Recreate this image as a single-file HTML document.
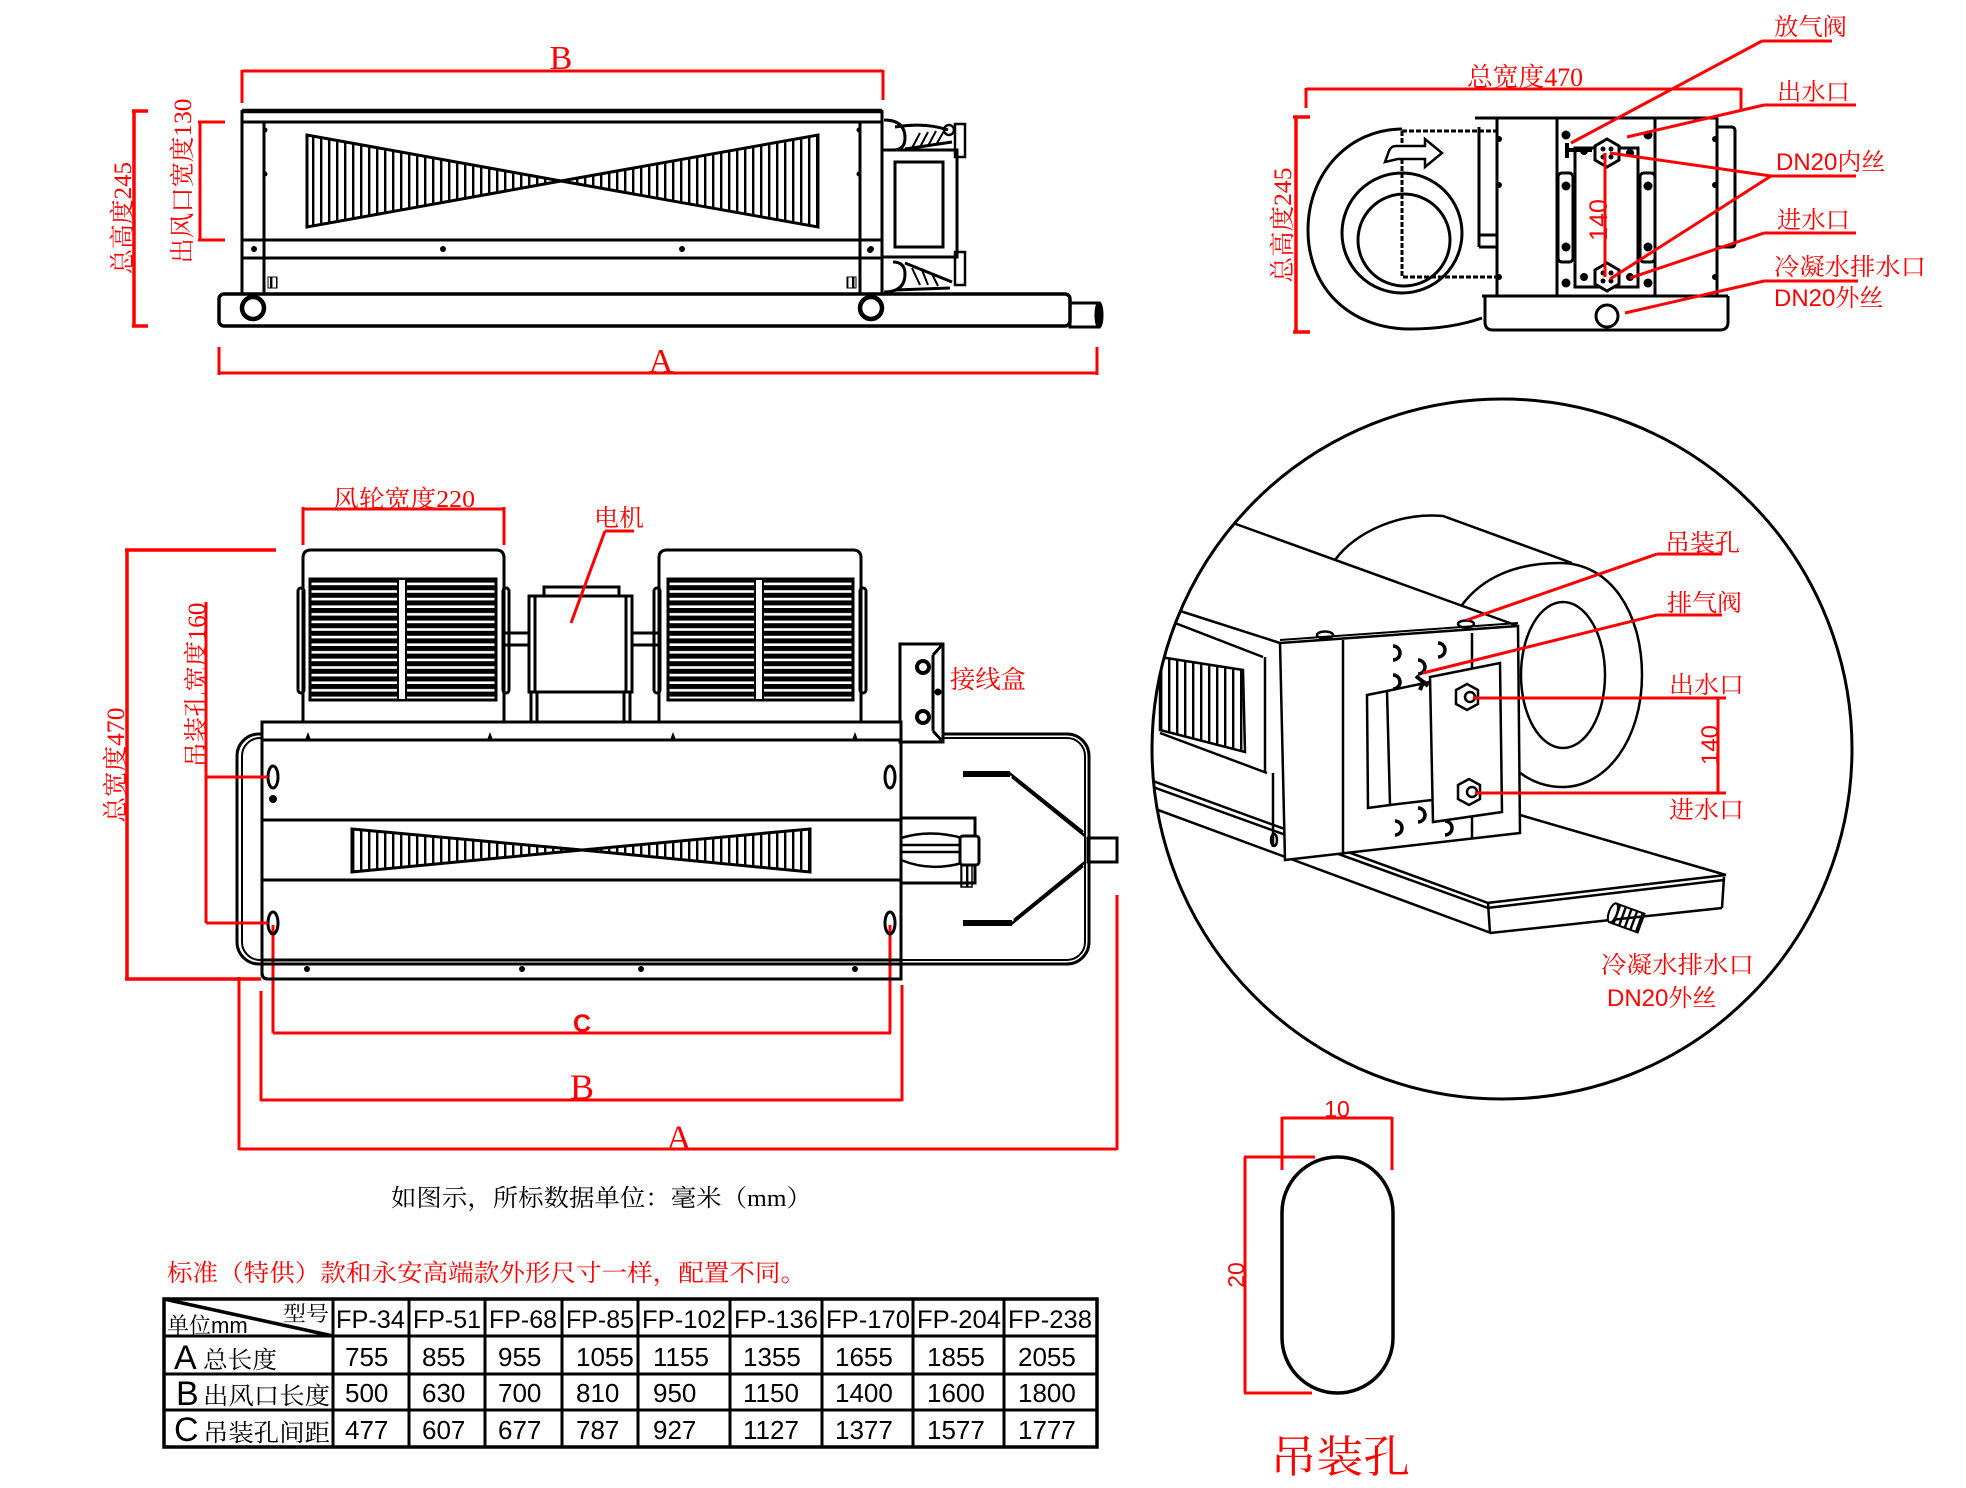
<!DOCTYPE html>
<html><head><meta charset="utf-8"><style>
html,body{margin:0;padding:0;background:#fff}
svg{display:block}
.s{font-family:"Liberation Serif","Noto Serif CJK SC",serif}
.a{font-family:"Liberation Sans","Noto Sans CJK SC",sans-serif}
</style></head><body>
<svg width="1966" height="1488" viewBox="0 0 1966 1488" xmlns="http://www.w3.org/2000/svg">
<defs>
<pattern id="vst" width="8" height="10" patternUnits="userSpaceOnUse"><rect x="0" y="0" width="2.4" height="10" fill="#000"/></pattern>
<pattern id="vst2" width="6" height="10" patternUnits="userSpaceOnUse"><rect x="0" y="0" width="2.4" height="10" fill="#000"/></pattern>
<pattern id="hbars" width="10" height="7.6" patternUnits="userSpaceOnUse"><rect width="10" height="5" fill="#000"/></pattern>
<clipPath id="cc"><circle cx="1502" cy="749" r="349"/></clipPath>
</defs>
<rect width="1966" height="1488" fill="#fff"/>

<!-- ================= TOP-LEFT FRONT VIEW ================= -->
<g stroke="#000" stroke-width="3" fill="none">
  <rect x="219" y="294" width="851" height="32" rx="5" stroke-width="3.5"/>
  <rect x="1070" y="303" width="29" height="24"/>
  <ellipse cx="1099" cy="315" rx="3" ry="12"/>
  <line x1="242" y1="111" x2="882" y2="111" stroke-width="4.5"/>
  <line x1="242" y1="122" x2="882" y2="122"/>
  <line x1="242" y1="110" x2="242" y2="294"/>
  <line x1="882" y1="110" x2="882" y2="294"/>
  <line x1="264" y1="122" x2="264" y2="294"/>
  <line x1="860" y1="122" x2="860" y2="294"/>
  <line x1="242" y1="240" x2="882" y2="240"/>
  <line x1="242" y1="258" x2="882" y2="258"/>
  <circle cx="253" cy="308" r="11" stroke-width="4.5" fill="#fff"/>
  <circle cx="871" cy="308" r="11" stroke-width="4.5" fill="#fff"/>
  <polygon points="307,135 307,227 561,181" fill="url(#vst)"/>
  <polygon points="818,135 818,227 561,181" fill="url(#vst)"/>
  <!-- right fittings -->
  <rect x="882" y="150" width="75" height="107"/>
  <rect x="895" y="162" width="48" height="85"/>
  <rect x="955" y="124" width="10" height="33" stroke-width="2.5"/>
  <rect x="955" y="252" width="10" height="33" stroke-width="2.5"/>
  <path d="M884,120 Q905,120 905,138 Q905,150 893,150"/>
  <path d="M895,127 Q925,122 948,130 M905,149 L952,142"/>
  <path d="M912,148 L920,133 M920,147 L928,132 M928,146 L936,131 M936,145 L944,131" stroke-width="2"/>
  <circle cx="949" cy="130" r="5" stroke-width="2.5"/>
  <path d="M884,292 Q905,292 905,274 Q905,262 893,262"/>
  <path d="M905,263 L952,282 M895,290 L950,288"/>
  <path d="M912,268 L920,285 M922,270 L928,285 M932,274 L938,286" stroke-width="2"/>
</g>
<g fill="#000">
  <circle cx="254" cy="249" r="3"/><circle cx="443" cy="249" r="3"/><circle cx="682" cy="249" r="3"/><circle cx="871" cy="249" r="3"/>
  <circle cx="265" cy="130" r="2.5"/><circle cx="265" cy="174" r="2.5"/><circle cx="859" cy="130" r="2.5"/><circle cx="859" cy="174" r="2.5"/>
  <circle cx="870" cy="250" r="3"/>
</g>
<rect x="268" y="277" width="9" height="11" fill="url(#vst2)" stroke="#000" stroke-width="1"/>
<rect x="847" y="277" width="9" height="11" fill="url(#vst2)" stroke="#000" stroke-width="1"/>

<!-- top-left dims -->
<g stroke="#f00" stroke-width="3" fill="none">
  <path d="M242,71 H883 M242,70 V103 M883,70 V100"/>
  <path d="M219,373 H1097 M219,347 V375 M1097,347 V375"/>
  <path d="M134,111 V326 M132,111 H148 M132,326 H148" stroke-width="3.5"/>
  <path d="M200,122 V240 M198,122 H225 M198,240 H225"/>
</g>
<g fill="#f00" class="s">
  <text x="561" y="69" font-size="34" text-anchor="middle">B</text>
  <text x="661" y="372" font-size="34" text-anchor="middle">A</text>
  <text transform="translate(122,218) rotate(-90)" y="9" font-size="25" text-anchor="middle" textLength="112" lengthAdjust="spacingAndGlyphs">总高度245</text>
  <text transform="translate(182,181) rotate(-90)" y="9" font-size="25" text-anchor="middle" textLength="165" lengthAdjust="spacingAndGlyphs">出风口宽度130</text>
</g>

<!-- ================= TOP-RIGHT SIDE VIEW ================= -->
<g stroke="#000" stroke-width="3" fill="none">
  <path d="M1402,129 C1350,129 1308,172 1308,230 C1308,290 1352,329 1410,329 C1440,329 1462,325 1482,318"/>
  <circle cx="1402" cy="233" r="60"/>
  <circle cx="1404" cy="240" r="46"/>
  <path d="M1402,131 H1497 M1402,131 V277 H1497" stroke-dasharray="5,2"/>
  <path d="M1385,162 L1389,151 Q1391,146 1396,146 L1425,146 L1425,139 L1442,153 L1425,167 L1425,159 L1398,159 Z" fill="#fff" stroke-width="2.5"/>
  <path d="M1475,118 H1718"/>
  <path d="M1479,127 V247 M1479,235 H1497 M1479,247 H1497"/>
  <path d="M1497,118 V296 M1557,118 V296 M1655,118 V296 M1717,118 V296"/>
  <path d="M1717,127 H1731 Q1735,127 1735,131 V243 Q1735,247 1731,247 H1717"/>
  <path d="M1482,296 H1728"/>
  <path d="M1485,296 V322 Q1485,330 1493,330 H1720 Q1728,330 1728,322 V296"/>
  <circle cx="1607" cy="316" r="11"/>
  <rect x="1558" y="173" width="15" height="89" rx="4"/>
  <rect x="1640" y="173" width="15" height="89" rx="4"/>
  <rect x="1575" y="148" width="63" height="139"/>
  <polygon points="1607,139 1619,146 1619,160 1607,167 1595,160 1595,146" fill="#fff"/>
  <polygon points="1607,263 1619,270 1619,284 1607,291 1595,284 1595,270" fill="#fff"/>
  <path d="M1567,143 V158 M1567,150 H1592" stroke-width="4"/>
</g>
<g fill="#000">
  <circle cx="1566" cy="135" r="4.5"/><circle cx="1648" cy="135" r="4.5"/>
  <circle cx="1566" cy="186" r="4.5"/><circle cx="1648" cy="186" r="4.5"/>
  <circle cx="1566" cy="247" r="4.5"/><circle cx="1648" cy="247" r="4.5"/>
  <circle cx="1566" cy="283" r="4.5"/><circle cx="1648" cy="283" r="4.5"/>
  <circle cx="1499" cy="139" r="3"/><circle cx="1499" cy="185" r="3"/><circle cx="1499" cy="277" r="3"/>
  <circle cx="1715" cy="139" r="3"/><circle cx="1715" cy="185" r="3"/><circle cx="1715" cy="277" r="3"/>
  <circle cx="1584" cy="151" r="4"/><circle cx="1630" cy="153" r="4"/>
  <circle cx="1584" cy="277" r="4"/><circle cx="1630" cy="277" r="4"/>
  <circle cx="1603" cy="149" r="2.5"/><circle cx="1611" cy="149" r="2.5"/><circle cx="1603" cy="157" r="2.5"/><circle cx="1611" cy="157" r="2.5"/>
  <circle cx="1603" cy="273" r="2.5"/><circle cx="1611" cy="273" r="2.5"/><circle cx="1603" cy="281" r="2.5"/><circle cx="1611" cy="281" r="2.5"/>
</g>
<!-- top-right red -->
<g stroke="#f00" stroke-width="3" fill="none">
  <path d="M1306,89 H1741 M1306,88 V108 M1741,88 V110"/>
  <path d="M1296,117 V332 M1293,117 H1310 M1293,332 H1310" stroke-width="3.5"/>
  <path d="M1605,153 V277"/>
  <path d="M1762,41 H1832 M1762,41 L1571,143"/>
  <path d="M1764,105 H1856 M1764,105 L1627,137"/>
  <path d="M1771,176 H1856 M1771,176 L1610,153 M1771,176 L1610,279"/>
  <path d="M1764,233 H1856 M1764,233 L1630,278"/>
  <path d="M1764,281 H1858 M1764,281 L1625,313"/>
</g>
<g fill="#f00">
  <text class="s" x="1525" y="86" font-size="26" text-anchor="middle" textLength="116" lengthAdjust="spacingAndGlyphs">总宽度470</text>
  <text class="s" transform="translate(1282,225) rotate(-90)" y="9" font-size="25" text-anchor="middle" textLength="115" lengthAdjust="spacingAndGlyphs">总高度245</text>
  <text class="a" transform="translate(1598,220) rotate(-90)" y="9" font-size="25" text-anchor="middle">140</text>
  <text class="s" x="1774" y="35" font-size="24" textLength="73" lengthAdjust="spacingAndGlyphs">放气阀</text>
  <text class="s" x="1777" y="100" font-size="24" textLength="73" lengthAdjust="spacingAndGlyphs">出水口</text>
  <text x="1776" y="170" font-size="24"><tspan class="a">DN20</tspan><tspan class="s">内丝</tspan></text>
  <text class="s" x="1777" y="228" font-size="24" textLength="73" lengthAdjust="spacingAndGlyphs">进水口</text>
  <text class="s" x="1774" y="275" font-size="24" textLength="152" lengthAdjust="spacingAndGlyphs">冷凝水排水口</text>
  <text x="1774" y="306" font-size="24"><tspan class="a">DN20</tspan><tspan class="s">外丝</tspan></text>
</g>

<!-- ================= BOTTOM-LEFT TOP VIEW ================= -->
<!-- red ticks under body -->
<g stroke="#f00" stroke-width="3" fill="none">
  <path d="M273,925 V1033 M890,925 V1033"/>
</g>
<g stroke="#000" stroke-width="3" fill="none">
  <!-- fans -->
  <path d="M303,722 V558 Q303,550 311,550 H496 Q504,550 504,558 V722" fill="#fff"/>
  <path d="M659,722 V558 Q659,550 667,550 H853 Q861,550 861,558 V722" fill="#fff"/>
  <rect x="298" y="588" width="6" height="105" rx="3"/>
  <rect x="503" y="588" width="6" height="105" rx="3"/>
  <rect x="654" y="588" width="6" height="105" rx="3"/>
  <rect x="860" y="588" width="6" height="105" rx="3"/>
  <rect x="310" y="579" width="186" height="121" fill="url(#hbars)"/>
  <rect x="668" y="579" width="185" height="121" fill="url(#hbars)"/>
  <rect x="398" y="579" width="8" height="121" fill="#fff" stroke-width="2"/>
  <rect x="755" y="579" width="8" height="121" fill="#fff" stroke-width="2"/>
  <!-- motor -->
  <path d="M504,633 H529 M504,645 H529 M632,633 H659 M632,645 H659"/>
  <rect x="544" y="587" width="75" height="9"/>
  <rect x="529" y="596" width="103" height="96" fill="#fff"/>
  <path d="M535,596 V692 M626,596 V692 M531,692 V722 M537,692 V722 M624,692 V722 M630,692 V722"/>
  <!-- outer tray rect -->
  <rect x="237" y="734" width="852" height="230" rx="22"/>
  <rect x="242" y="738" width="843" height="222" rx="18" stroke-width="2"/>
  <!-- junction box -->
  <rect x="900" y="644" width="43" height="98" fill="#fff"/>
  <path d="M933,655 V731 M933,655 L943,644 M933,731 L943,742"/>
  <circle cx="923" cy="667" r="6" stroke-width="4"/>
  <circle cx="923" cy="717" r="6" stroke-width="4"/>
  <!-- body -->
  <rect x="262" y="722" width="639" height="18" fill="#fff"/>
  <path d="M262,740 H901 V979 H268 Q262,979 262,973 Z" fill="none"/>
  <path d="M262,740 V973 Q262,979 268,979 H901 V740 Z" fill="none"/>
  <path d="M262,820 H901 M262,880 H901 M262,960 H901"/>
  <polygon points="352,829 352,872 582,850" fill="url(#vst)"/>
  <polygon points="810,829 810,872 582,850" fill="url(#vst)"/>
  <ellipse cx="273" cy="777" rx="5" ry="11"/>
  <ellipse cx="273" cy="923" rx="5" ry="11"/>
  <ellipse cx="890" cy="777" rx="5" ry="11"/>
  <ellipse cx="890" cy="923" rx="5" ry="11"/>
  <!-- right valve area -->
  <path d="M901,818 H975 V883 H901"/>
  <path d="M901,838 Q930,829 962,838 M901,845 H962 M901,852 H962 M901,860 Q930,872 962,863" stroke-width="2.5"/>
  <rect x="960" y="836" width="19" height="29" rx="3" fill="#fff"/>
  <rect x="961" y="865" width="11" height="22" fill="url(#vst2)" stroke-width="1.5"/>
  <path d="M963,774 H1010" stroke-width="6"/>
  <path d="M963,923 H1012" stroke-width="6"/>
  <path d="M1008,772 L1083,832 M1012,777 L1085,836" stroke-width="2.5"/>
  <path d="M1010,925 L1083,866 M1014,920 L1085,862" stroke-width="2.5"/>
  <rect x="1088" y="838" width="29" height="24"/>
</g>
<g fill="#000">
  <polygon points="305,740 311,740 308,732"/><polygon points="487,740 493,740 490,732"/>
  <polygon points="670,740 676,740 673,732"/><polygon points="852,740 858,740 855,732"/>
  <circle cx="307" cy="969" r="3"/><circle cx="522" cy="969" r="3"/><circle cx="641" cy="969" r="3"/><circle cx="855" cy="969" r="3"/>
  <circle cx="273" cy="799" r="4"/>
  <circle cx="938" cy="692" r="3.5"/>
</g>
<!-- bottom-left red dims -->
<g stroke="#f00" stroke-width="3" fill="none">
  <path d="M303,509 H504 M303,507 V545 M504,507 V545"/>
  <path d="M605,531 H634 M605,531 L571,623"/>
  <path d="M127,550 V979 M125,550 H276 M125,979 H261" stroke-width="3.5"/>
  <path d="M206,602 V923 M206,777 H268 M206,923 H268"/>
  <path d="M273,1033 H891"/>
  <path d="M261,991 V1101 M902,985 V1101 M261,1100 H902"/>
  <path d="M239,977 V1150 M1117,895 V1150 M239,1149 H1117"/>
</g>
<g fill="#f00">
  <text class="s" x="333" y="507" font-size="24" textLength="142" lengthAdjust="spacingAndGlyphs">风轮宽度220</text>
  <text class="s" x="594" y="526" font-size="24" textLength="50" lengthAdjust="spacingAndGlyphs">电机</text>
  <text class="s" x="950" y="688" font-size="25" textLength="76" lengthAdjust="spacingAndGlyphs">接线盒</text>
  <text class="s" transform="translate(115,765) rotate(-90)" y="9" font-size="25" text-anchor="middle" textLength="115" lengthAdjust="spacingAndGlyphs">总宽度470</text>
  <text class="s" transform="translate(196,685) rotate(-90)" y="9" font-size="25" text-anchor="middle" textLength="165" lengthAdjust="spacingAndGlyphs">吊装孔宽度160</text>
  <text class="a" x="582" y="1032" font-size="25" font-weight="bold" text-anchor="middle">C</text>
  <text class="s" x="582" y="1099" font-size="36" text-anchor="middle">B</text>
  <text class="s" x="679" y="1150" font-size="36" text-anchor="middle">A</text>
</g>

<!-- ================= CIRCLE DETAIL ================= -->
<g clip-path="url(#cc)" stroke="#000" stroke-width="2.5" fill="none">
  <!-- scroll -->
  <path d="M1335,560 C1355,532 1400,512 1443,516 L1572,563"/>
  <path d="M1462,605 C1482,578 1515,563 1560,563 C1610,563 1642,612 1642,675 C1642,740 1606,787 1563,787 C1540,787 1522,777 1508,762"/>
  <ellipse cx="1563" cy="675" rx="42" ry="73"/>
  <!-- long body edges -->
  <path d="M1233,523 L1518,626"/>
  <path d="M1177,610 L1280,643 M1175,623 L1263,657"/>
  <polygon points="1160,657 1243,670 1245,752 1160,730" fill="url(#vst)"/>
  <path d="M1265,657 V773 M1160,733 L1267,773 M1273,773 V847"/>
  <ellipse cx="1274" cy="840" rx="3" ry="6"/>
  <!-- tray -->
  <path d="M1150,780 L1488,903 M1150,786 L1488,908" stroke-width="2.5"/>
  <path d="M1150,807 L1491,933"/>
  <path d="M1520,815 L1726,875"/>
  <path d="M1487,903 L1726,875 M1487,908 L1724,880" stroke-width="2.5"/>
  <path d="M1490,933 L1722,908 M1724,877 L1722,908 M1488,903 L1490,933"/>
  <!-- front face -->
  <polygon points="1280,643 1518,626 1520,833 1285,860" fill="#fff"/>
  <path d="M1280,640 L1518,623" stroke-width="2"/>
  <path d="M1343,640 V852 M1472,633 V838"/>
  <polygon points="1430,677 1500,663 1502,812 1433,822" fill="#fff"/>
  <path d="M1367,695 L1387,691 L1390,805 L1368,808 Z"/>
  <path d="M1387,691 L1430,682 M1390,805 L1432,800"/>
  <ellipse cx="1325" cy="635" rx="8" ry="3.5"/>
  <ellipse cx="1466" cy="624" rx="8" ry="3.5"/>
  <polygon points="1467,684 1478,690 1478,704 1467,710 1456,704 1456,690" fill="#fff"/>
  <polygon points="1469,779 1480,785 1480,799 1469,805 1458,799 1458,785" fill="#fff"/>
  <circle cx="1470" cy="697" r="5"/>
  <circle cx="1472" cy="792" r="5"/>
  <path d="M1393,646 A7,7 0 1 1 1393,660 M1438,643 A7,7 0 1 1 1438,657 M1418,660 A7,7 0 1 1 1418,674 M1393,675 A7,7 0 1 1 1393,689 M1395,821 A7,7 0 1 1 1395,835 M1445,821 A7,7 0 1 1 1445,835 M1418,808 A7,7 0 1 1 1418,822" stroke-width="3.5"/>
  <path d="M1416,676 L1428,686 M1420,690 L1424,680" stroke-width="4"/>
  <!-- drain stub -->
  <g transform="translate(1627,918) rotate(20)">
    <rect x="-15" y="-10" width="30" height="20" fill="url(#vst2)" stroke-width="2"/>
    <ellipse cx="-15" cy="0" rx="4" ry="10" fill="#fff" stroke-width="2"/>
  </g>
</g>
<circle cx="1502" cy="749" r="350" fill="none" stroke="#000" stroke-width="3"/>
<g stroke="#f00" stroke-width="3" fill="none">
  <path d="M1657,554 H1722 M1657,554 L1467,620"/>
  <path d="M1657,615 H1722 M1657,615 L1423,673"/>
  <path d="M1473,698 H1726 M1475,793 H1726 M1718,698 V793"/>
</g>
<g fill="#f00" class="s">
  <text x="1665" y="551" font-size="24" textLength="75" lengthAdjust="spacingAndGlyphs">吊装孔</text>
  <text x="1667" y="611" font-size="24" textLength="75" lengthAdjust="spacingAndGlyphs">排气阀</text>
  <text x="1669" y="693" font-size="24" textLength="75" lengthAdjust="spacingAndGlyphs">出水口</text>
  <text x="1669" y="818" font-size="24" textLength="75" lengthAdjust="spacingAndGlyphs">进水口</text>
  <text class="a" transform="translate(1709,745) rotate(-90)" y="9" font-size="24" text-anchor="middle">140</text>
  <text x="1601" y="973" font-size="24" textLength="153" lengthAdjust="spacingAndGlyphs">冷凝水排水口</text>
  <text x="1607" y="1006" font-size="24"><tspan class="a">DN20</tspan><tspan class="s">外丝</tspan></text>
</g>

<!-- ================= HANGING HOLE ================= -->
<path d="M1282,1212.5 A55.5,55.5 0 0 1 1393,1212.5 V1337.5 A55.5,55.5 0 0 1 1282,1337.5 Z" fill="none" stroke="#000" stroke-width="3.5"/>
<g stroke="#f00" stroke-width="3" fill="none">
  <path d="M1282,1118 H1392 M1282,1117 V1170 M1392,1117 V1170"/>
  <path d="M1245,1157 V1393 M1244,1157 H1315 M1244,1393 H1312"/>
</g>
<g fill="#f00">
  <text class="a" x="1337" y="1117" font-size="23" text-anchor="middle">10</text>
  <text class="a" transform="translate(1236,1275) rotate(-90)" y="8" font-size="23" text-anchor="middle">20</text>
  <text class="s" x="1270" y="1472" font-size="44" textLength="140" lengthAdjust="spacingAndGlyphs">吊装孔</text>
</g>

<!-- ================= NOTES ================= -->
<text class="s" x="391" y="1206" font-size="24" fill="#000" textLength="421" lengthAdjust="spacingAndGlyphs">如图示，所标数据单位：毫米（mm）</text>
<text class="s" x="167" y="1281" font-size="24" fill="#f00" textLength="639" lengthAdjust="spacingAndGlyphs">标准（特供）款和永安高端款外形尺寸一样，配置不同。</text>

<!-- ================= TABLE ================= -->
<g stroke="#000" stroke-width="3" fill="none">
  <rect x="164" y="1299" width="933" height="148" stroke-width="3.5"/>
  <path d="M164,1336 H1097 M164,1374 H1097 M164,1410 H1097"/>
  <path d="M333,1299 V1447 M409,1299 V1447 M485,1299 V1447 M562,1299 V1447 M638,1299 V1447 M730,1299 V1447 M822,1299 V1447 M913,1299 V1447 M1004,1299 V1447"/>
  <path d="M164,1299 L333,1336" stroke-width="3.5"/>
</g>
<g fill="#000">
  <text class="s" x="283" y="1321" font-size="21" textLength="46" lengthAdjust="spacingAndGlyphs">型号</text>
  <text x="167" y="1333" font-size="22"><tspan class="s">单位</tspan><tspan class="a">mm</tspan></text>
  <g class="a" font-size="25">
    <text x="336" y="1328" textLength="69" lengthAdjust="spacingAndGlyphs">FP-34</text>
    <text x="413" y="1328" textLength="68" lengthAdjust="spacingAndGlyphs">FP-51</text>
    <text x="489" y="1328" textLength="68" lengthAdjust="spacingAndGlyphs">FP-68</text>
    <text x="566" y="1328" textLength="68" lengthAdjust="spacingAndGlyphs">FP-85</text>
    <text x="642" y="1328" textLength="84" lengthAdjust="spacingAndGlyphs">FP-102</text>
    <text x="734" y="1328" textLength="84" lengthAdjust="spacingAndGlyphs">FP-136</text>
    <text x="826" y="1328" textLength="84" lengthAdjust="spacingAndGlyphs">FP-170</text>
    <text x="917" y="1328" textLength="84" lengthAdjust="spacingAndGlyphs">FP-204</text>
    <text x="1008" y="1328" textLength="84" lengthAdjust="spacingAndGlyphs">FP-238</text>
  </g>
  <text class="a" x="174" y="1369" font-size="34">A</text>
  <text class="s" x="203" y="1368" font-size="24" textLength="74" lengthAdjust="spacingAndGlyphs">总长度</text>
  <text class="a" x="176" y="1405" font-size="34">B</text>
  <text class="s" x="203" y="1404" font-size="24" textLength="127" lengthAdjust="spacingAndGlyphs">出风口长度</text>
  <text class="a" x="174" y="1441" font-size="34">C</text>
  <text class="s" x="203" y="1441" font-size="24" textLength="127" lengthAdjust="spacingAndGlyphs">吊装孔间距</text>
  <g class="a" font-size="26">
    <text x="345" y="1366">755</text><text x="422" y="1366">855</text><text x="498" y="1366">955</text>
    <text x="576" y="1366">1055</text><text x="653" y="1366">1155</text><text x="743" y="1366">1355</text>
    <text x="835" y="1366">1655</text><text x="927" y="1366">1855</text><text x="1018" y="1366">2055</text>
    <text x="345" y="1402">500</text><text x="422" y="1402">630</text><text x="498" y="1402">700</text>
    <text x="576" y="1402">810</text><text x="653" y="1402">950</text><text x="743" y="1402">1150</text>
    <text x="835" y="1402">1400</text><text x="927" y="1402">1600</text><text x="1018" y="1402">1800</text>
    <text x="345" y="1439">477</text><text x="422" y="1439">607</text><text x="498" y="1439">677</text>
    <text x="576" y="1439">787</text><text x="653" y="1439">927</text><text x="743" y="1439">1127</text>
    <text x="835" y="1439">1377</text><text x="927" y="1439">1577</text><text x="1018" y="1439">1777</text>
  </g>
</g>
</svg>
</body></html>
